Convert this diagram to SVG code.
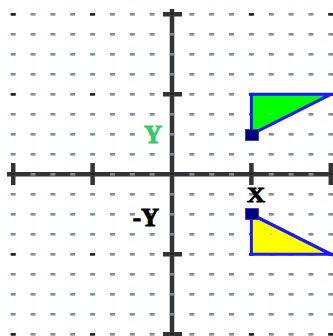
<svg xmlns="http://www.w3.org/2000/svg" width="333" height="336" viewBox="0 0 333 336">
<style>
.axis{stroke:#333;stroke-width:4.5;fill:none}
.tick{stroke:#333;stroke-width:4.5;fill:none}
.tri{stroke:#1a1aff;stroke-width:3;stroke-linejoin:miter}
.pt{fill:#000080;stroke:#3333aa;stroke-width:0.8}
.lbl{font-family:"Liberation Serif",serif;font-weight:bold;font-size:25px;text-anchor:middle}
</style>
<defs>
<pattern id="minor" x="169.5" y="173" width="19.85" height="20" patternUnits="userSpaceOnUse">
<rect x="0" y="0" width="5" height="2.6" fill="#7d8ca0"/>
</pattern>
<pattern id="major" x="169.5" y="173" width="79.4" height="80" patternUnits="userSpaceOnUse">
<rect x="0" y="0" width="5" height="2.6" fill="#222"/>
</pattern>
</defs>
<rect width="333" height="336" fill="#fff"/>
<g id="axes">
<line class="axis" x1="172" y1="9" x2="172" y2="336"/>
<line class="axis" x1="7" y1="174.3" x2="333" y2="174.3"/>
<path class="tick" d="M13.2 163V185M92.6 163V185M251.4 163V185M330.8 163V185M163 14.3H182M163 94.3H182M163 254.3H182M163 334.3H182"/>
</g>
<g id="grid">
<rect width="333" height="336" fill="url(#minor)"/>
<rect width="333" height="336" fill="url(#major)"/>
</g>
<g id="green-triangle">
<polygon class="tri" points="251.4,94.3 251.4,134.3 330.8,94.3 336,94.3" fill="#00ff00"/>
<rect x="270" y="113" width="1.5" height="1.5" fill="#8fbf8f"/>
<rect class="pt" x="245.5" y="129.5" width="13" height="11"/>
</g>
<g id="yellow-triangle">
<polygon class="tri" points="251.4,214.3 251.4,254.3 336,254.3 330.8,254.3" fill="#ffff00"/>
<path class="tri" d="M251.4 214.3L336 256.6" fill="none"/>
<rect x="270" y="233" width="1.5" height="1.5" fill="#bfbf8f"/>
<rect class="pt" x="245.5" y="208.5" width="13" height="11"/>
</g>
<g id="labels">
<text class="lbl" x="153" y="143" fill="#33cc66" stroke="#33cc66" stroke-width="1">Y</text>
<text class="lbl" x="256" y="202" fill="#000" stroke="#000" stroke-width="1" transform="translate(0,202) scale(1,0.85) translate(0,-202)">X</text>
<text class="lbl" x="146" y="226" fill="#000" stroke="#000" stroke-width="1">-Y</text>
</g>
</svg>
